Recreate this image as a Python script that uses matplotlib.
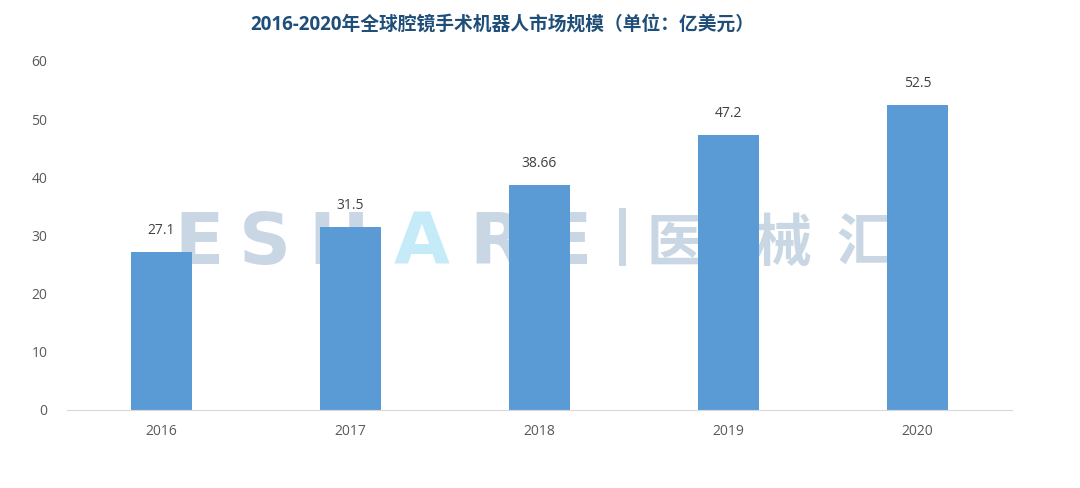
import matplotlib.pyplot as plt

plt.rcParams['font.family'] = ['Open Sans', 'Noto Sans CJK SC', 'DejaVu Sans']

years = ['2016', '2017', '2018', '2019', '2020']
market_size = [27.1, 31.5, 38.66, 47.2, 52.5]
value_labels = ['27.1', '31.5', '38.66', '47.2', '52.5']

fig = plt.figure(figsize=(10.8, 4.88), dpi=100)
ax = fig.add_axes([0.062, 0.16, 0.875, 0.715])

x = range(len(years))
ax.bar(x, market_size, width=0.32, color='#5b9bd5', zorder=3)

for xi, v, lab in zip(x, market_size, value_labels):
    ax.text(xi, v + 2.4, lab, ha='center', va='bottom', fontsize=10, color='#404040', zorder=4)

# watermark
wm_grey = '#c9d7e4'
wm_latin = [('E', 0.14, wm_grey), ('S', 0.21, wm_grey), ('H', 0.288, wm_grey),
            ('A', 0.375, '#c6ebf8'), ('R', 0.455, wm_grey), ('E', 0.529, wm_grey)]
for ch, xp, col in wm_latin:
    ax.text(xp, 0.475, ch, transform=ax.transAxes, ha='center', va='center',
            fontsize=52, fontweight='bold', family='DejaVu Sans', color=col, zorder=1)
ax.axvline(0.587 * 5 - 0.5, ymin=0.425, ymax=0.57, color=wm_grey, lw=5, zorder=1)
for ch, xp in [('医', 0.643), ('械', 0.758), ('汇', 0.845)]:
    ax.text(xp, 0.475, ch, transform=ax.transAxes, ha='center', va='center',
            fontsize=41, fontweight='bold', family='Noto Sans CJK SC', color=wm_grey, zorder=1)

ax.set_xlim(-0.5, 4.5)
ax.set_ylim(0, 60)
ax.set_yticks(range(0, 61, 10))
ax.set_xticks(list(x))
ax.set_xticklabels(years)
ax.tick_params(axis='both', length=0, labelsize=10, colors='#595959')
ax.tick_params(axis='y', pad=14)
ax.tick_params(axis='x', pad=10)
for s in ['top', 'right', 'left']:
    ax.spines[s].set_visible(False)
ax.spines['bottom'].set_color('#d9d9d9')
ax.spines['bottom'].set_zorder(5)

fig.text(0.465, 0.95, '2016-2020年全球腔镜手术机器人市场规模（单位：亿美元）',
         ha='center', va='center', fontsize=13.5, fontweight='bold', color='#1f4e79')

fig.savefig('out.png', dpi=100)
